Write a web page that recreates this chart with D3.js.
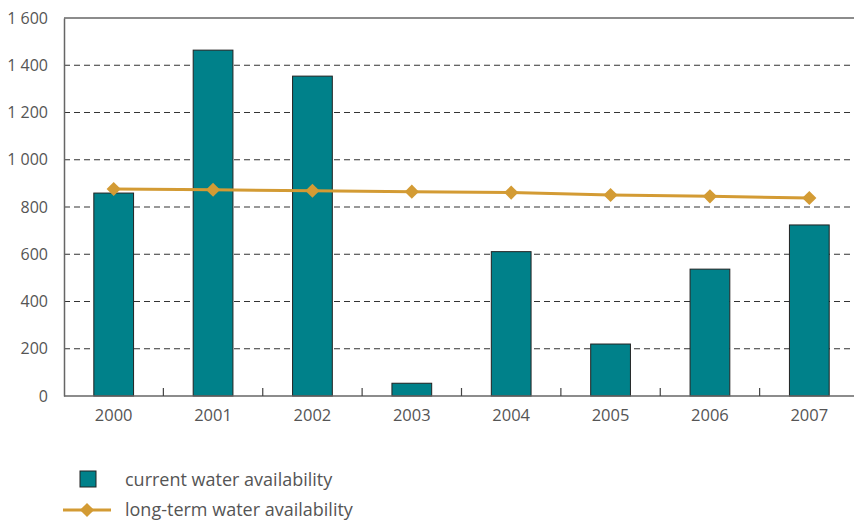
<!DOCTYPE html>
<html><head><meta charset="utf-8">
<script src="https://cdn.jsdelivr.net/npm/d3@7"></script>
<style>body{margin:0;background:#fff}svg{display:block}text{font-family:"Open Sans",sans-serif;fill:#555}</style>
</head><body><svg id="c" width="854" height="520"></svg>
<script>
const years = ["2000","2001","2002","2003","2004","2005","2006","2007"];
const current = [859, 1464, 1354, 54, 611, 220, 537, 724];
const longTerm = [876, 873, 869, 865, 861, 851, 845, 838];
const yTicks = [0, 200, 400, 600, 800, 1000, 1200, 1400, 1600];
const legendLabels = ["current water availability", "long-term water availability"];

const teal = "#00818a", gold = "#d39b34";
const svg = d3.select("#c");
const L = 64, R = 859, T = 18, B = 396;
const x = d3.scaleBand().domain(years).range([L, R]).paddingInner(0.6).paddingOuter(0.3);
const xs = d3.scaleBand().domain(years).range([L, R]);
const y = d3.scaleLinear().domain([0, 1600]).range([B, T]);
const fmt = d => d3.format(",")(d).replace(",", " ");
const diamondPath = d3.symbol().type(d3.symbolSquare).size(100)();

// gridlines
svg.append("g").selectAll("line").data(yTicks.filter(d => d > 0 && d < 1600)).join("line")
  .attr("x1", L).attr("x2", 854).attr("y1", d => y(d)).attr("y2", d => y(d))
  .attr("stroke", "#333").attr("stroke-width", 1.2).attr("stroke-dasharray", "6,4");
// top line
svg.append("line").attr("x1", L).attr("x2", 854).attr("y1", y(1600)).attr("y2", y(1600))
  .attr("stroke", "#666").attr("stroke-width", 1.5);

// bars
svg.append("g").selectAll("rect").data(years).join("rect")
  .attr("x", d => x(d)).attr("width", x.bandwidth())
  .attr("y", (d, i) => y(current[i])).attr("height", (d, i) => B - y(current[i]))
  .attr("fill", teal).attr("stroke", "#222").attr("stroke-width", 1);

// axes
const yAxis = svg.append("g").attr("transform", `translate(${L},0)`)
  .call(d3.axisLeft(y).tickValues(yTicks).tickFormat(fmt).tickSize(0).tickPadding(16));
yAxis.select(".domain").attr("stroke", "#666").attr("stroke-width", 1.5);
yAxis.selectAll("text").style("font-size", "16px").attr("fill", "#555");

const xAxis = svg.append("g").attr("transform", `translate(0,${B})`)
  .call(d3.axisBottom(x).tickSize(0).tickPadding(13));
xAxis.select(".domain").attr("d", `M${L},0H854`).attr("stroke", "#666").attr("stroke-width", 1.5);
xAxis.selectAll("text").style("font-size", "16.5px").attr("fill", "#555");
// inner ticks between categories
svg.append("g").selectAll("line").data(years.slice(1)).join("line")
  .attr("x1", d => xs(d)).attr("x2", d => xs(d)).attr("y1", B).attr("y2", B - 8)
  .attr("stroke", "#444").attr("stroke-width", 1.2);

// line
const cx = d => x(d) + x.bandwidth() / 2;
svg.append("path").datum(years)
  .attr("d", d3.line().x(cx).y((d, i) => y(longTerm[i])))
  .attr("fill", "none").attr("stroke", gold).attr("stroke-width", 3);
svg.append("g").selectAll("path").data(years).join("path")
  .attr("d", diamondPath)
  .attr("transform", (d, i) => `translate(${cx(d)},${y(longTerm[i])}) rotate(45)`)
  .attr("fill", gold);

// legend
const lg = svg.append("g");
lg.append("rect").attr("x", 80).attr("y", 471).attr("width", 16).attr("height", 16)
  .attr("fill", teal).attr("stroke", "#222").attr("stroke-width", 1);
lg.append("text").attr("x", 125).attr("y", 486).text(legendLabels[0]).style("font-size", "18px");
lg.append("line").attr("x1", 63).attr("x2", 111).attr("y1", 510).attr("y2", 510)
  .attr("stroke", gold).attr("stroke-width", 3);
lg.append("path").attr("d", diamondPath)
  .attr("transform", "translate(87,510) rotate(45)").attr("fill", gold);
lg.append("text").attr("x", 125).attr("y", 516).text(legendLabels[1]).style("font-size", "18px");
</script></body></html>
